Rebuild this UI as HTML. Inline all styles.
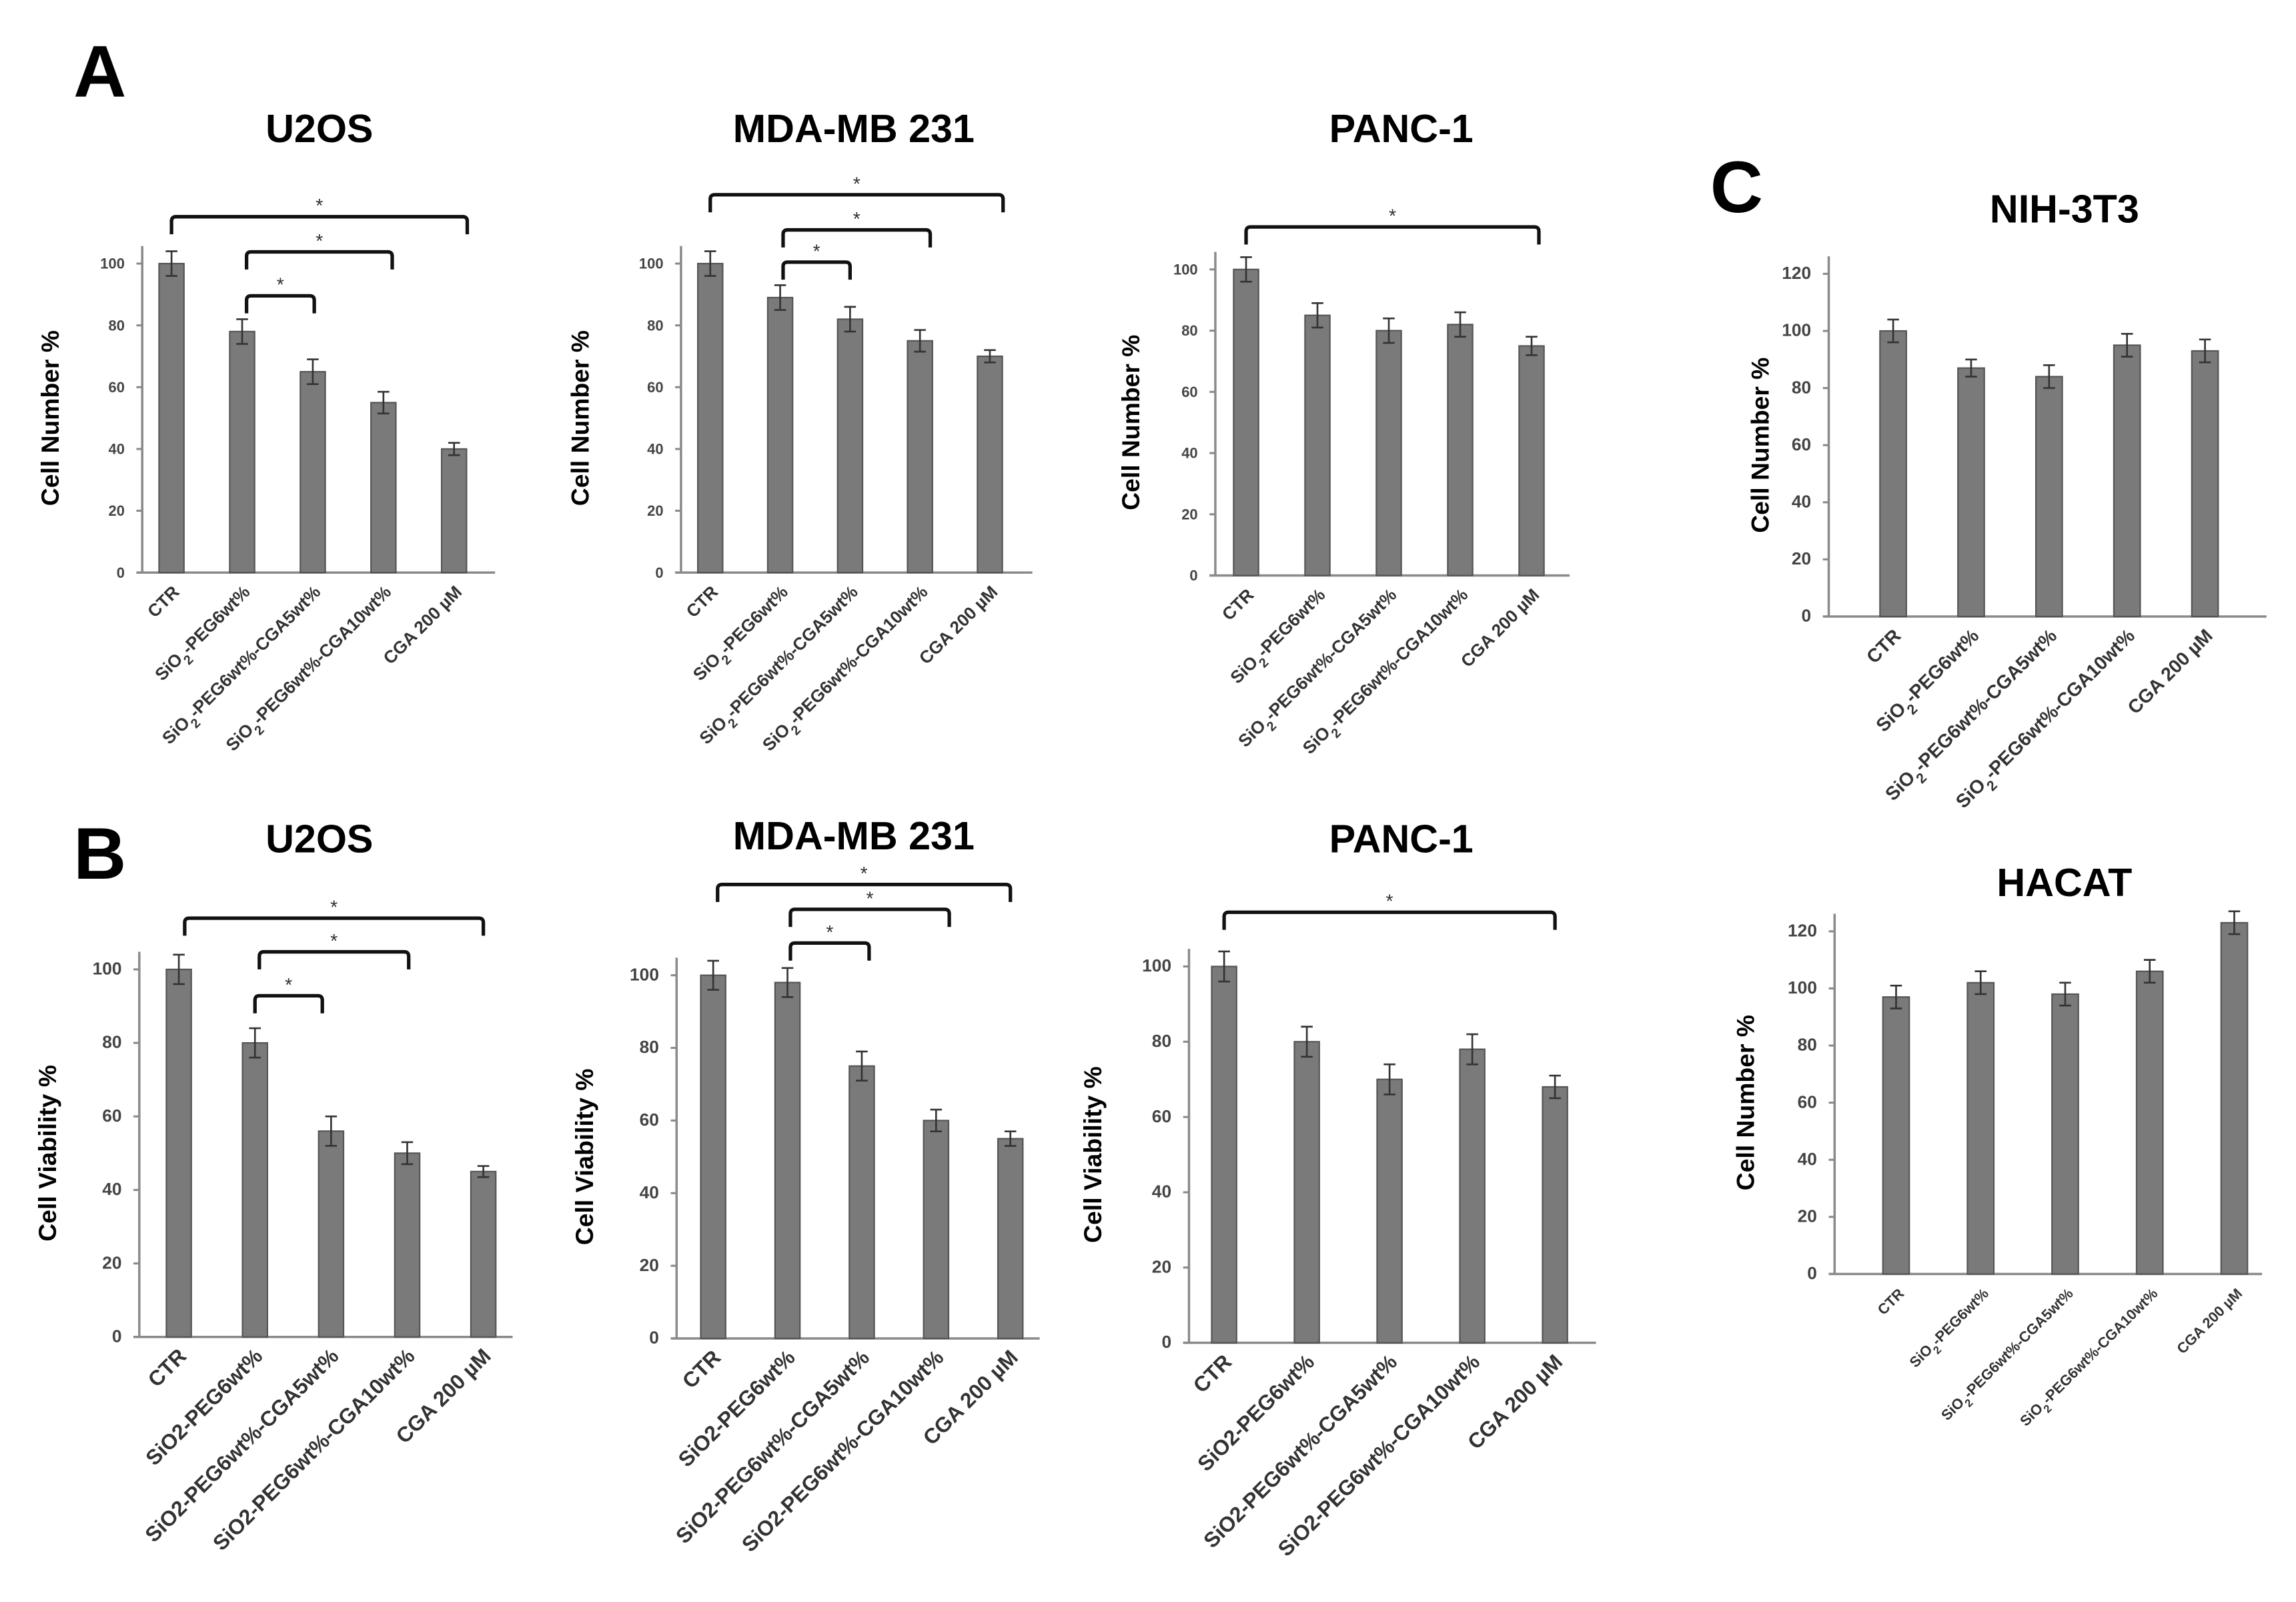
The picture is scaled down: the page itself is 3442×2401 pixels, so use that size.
<!DOCTYPE html>
<html><head><meta charset="utf-8"><style>
html,body{margin:0;padding:0;background:#fff;}
svg{display:block;}
text{font-family:"Liberation Sans",sans-serif;}
</style></head><body>
<svg id="fig" width="3442" height="2401" viewBox="0 0 1568 1094" xmlns="http://www.w3.org/2000/svg">
<rect width="1568" height="1094" fill="#fff"/>
<text x="50" y="66" font-size="50" font-weight="bold">A</text>
<text x="50" y="600" font-size="50" font-weight="bold">B</text>
<text x="1168" y="145" font-size="50" font-weight="bold">C</text>
</svg>
<script>
const categories = ["CTR","SiO2-PEG6wt%","SiO2-PEG6wt%-CGA5wt%","SiO2-PEG6wt%-CGA10wt%","CGA 200 µM"];
const u2osNum = [100,78,65,55,40];
const u2osNumErr = [4,4,4,3.5,2];
const mdaNum = [100,89,82,75,70];
const mdaNumErr = [4,4,4,3.5,2];
const pancNum = [100,85,80,82,75];
const pancNumErr = [4,4,4,4,3];
const u2osVia = [100,80,56,50,45];
const u2osViaErr = [4,4,4,3,1.5];
const mdaVia = [100,98,75,60,55];
const mdaViaErr = [4,4,4,3,2];
const pancVia = [100,80,70,78,68];
const pancViaErr = [4,4,4,4,3];
const nihNum = [100,87,84,95,93];
const nihNumErr = [4,3,4,4,4];
const hacatNum = [97,102,98,106,123];
const hacatNumErr = [4,4,4,4,4];
const ticks100 = [0,20,40,60,80,100];
const ticks120 = [0,20,40,60,80,100,120];

const NS="http://www.w3.org/2000/svg";
const svg=document.getElementById('fig');
function mk(tag,attrs,parent){const e=document.createElementNS(NS,tag);for(const k in attrs)e.setAttribute(k,attrs[k]);(parent||svg).appendChild(e);return e;}

function chart(o){
  const g=mk('g',{});
  
  
  const yMax=o.ticks[o.ticks.length-1];
  const y=v=>o.y0-(v/yMax)*(o.y0-o.yTop);
  const x=i=>o.x0+(i)*(o.x1-o.x0)/(o.vals.length-1);
  const t=mk('text',{x:o.tx,y:o.ty,'font-size':27,'font-weight':'bold','text-anchor':'middle'},g);
  t.textContent=o.title;
  
  
  const yl=mk('text',{x:0,y:0,'font-size':o.ylfs||17,'font-weight':'bold','text-anchor':'middle',transform:`translate(${o.ylx},${(o.y0+o.yTop)/2}) rotate(-90)`},g);
  yl.textContent=o.ylabel;
  
  
  const ya=mk('line',{x1:o.ax,y1:o.y0,x2:o.ax,y2:o.yTop-12,stroke:'#8a8a8a','stroke-width':1.6},g);
  
  
  const xa=mk('line',{x1:o.ax-4,y1:o.y0,x2:o.axEnd,y2:o.y0,stroke:'#8a8a8a','stroke-width':1.6},g);
  
  
  o.ticks.forEach(tv=>{
    mk('line',{x1:o.ax-4,y1:y(tv),x2:o.ax,y2:y(tv),stroke:'#8a8a8a','stroke-width':1.4},g);
    const tl=mk('text',{x:o.ax-12,y:y(tv)+3.5,'font-size':o.tfs||10,'font-weight':'bold',fill:'#444','text-anchor':'end'},g);
    tl.textContent=tv;
    
    
  });
  o.vals.forEach((v,i)=>{
    const cx=x(i);
    const b=mk('rect',{x:cx-o.bw/2,y:y(v),width:o.bw,height:o.y0-y(v),fill:'#7a7a7a',stroke:'#555','stroke-width':1},g);
    
    
    const e=o.err[i];
    const eb=mk('path',{d:`M${cx},${y(v+e)}V${y(v-e)}M${cx-4},${y(v+e)}H${cx+4}M${cx-4},${y(v-e)}H${cx+4}`,stroke:'#333','stroke-width':1.2,fill:'none'},g);
    
    
    const lx=cx+6, ly=o.y0+14;
    const lt=mk('text',{x:lx,y:ly,'font-size':o.lfs||10,'font-weight':'bold',fill:'#333','text-anchor':'end',transform:`rotate(-45 ${lx} ${ly})`},g);
    
    
    const c=categories[i];
    if(o.sub && c.startsWith('SiO2')){
      const a=mk('tspan',{},lt);a.textContent='SiO';
      const s=mk('tspan',{'baseline-shift':'sub','font-size':(o.lfs||10)*0.75},lt);s.textContent='2';
      const r=mk('tspan',{},lt);r.textContent=c.slice(4);
    } else lt.textContent=c;
  });
  (o.brackets||[]).forEach(br=>{
    const xa_=x(br[0])+(br[3]||0), xb=x(br[1])+(br[4]||0), by=br[2];
    const p=mk('path',{d:`M${xa_},${by+12}V${by+3}Q${xa_},${by} ${xa_+3},${by}H${xb-3}Q${xb},${by} ${xb},${by+3}V${by+12}`,stroke:'#111','stroke-width':2.4,fill:'none'},g);
    
    
    const s=mk('text',{x:(xa_+xb)/2,y:by-3,'font-size':13,'text-anchor':'middle',fill:'#333'},g);
    s.textContent='*';
    
    
  });
}

chart({name:'chart-a-u2os',title:'U2OS',tx:218,ty:97,ylabel:'Cell Number %',ylx:40,ax:97,axEnd:338,x0:117,x1:310,y0:391,yTop:180,bw:17,vals:u2osNum,err:u2osNumErr,ticks:ticks100,sub:true,lfs:12,
  brackets:[[0,4,148,0,9],[1,3,172,3,6],[1,2,202,3,1]]});
chart({name:'chart-a-mda',title:'MDA-MB 231',tx:583,ty:97,ylabel:'Cell Number %',ylx:402,ax:465,axEnd:705,x0:485,x1:676,y0:391,yTop:180,bw:17,vals:mdaNum,err:mdaNumErr,ticks:ticks100,sub:true,lfs:12,
  brackets:[[0,4,133,0,9],[1,3,157,2,7],[1,2,179,2,0]]});
chart({name:'chart-a-panc',title:'PANC-1',tx:957,ty:97,ylabel:'Cell Number %',ylx:778,ax:830,axEnd:1072,x0:851,x1:1046,y0:393,yTop:184,bw:17,vals:pancNum,err:pancNumErr,ticks:ticks100,sub:true,lfs:12,
  brackets:[[0,4,155,0,5]]});
chart({name:'chart-b-u2os',title:'U2OS',tx:218,ty:582,ylabel:'Cell Viability %',ylx:38,ax:95,axEnd:350,x0:122,x1:330,y0:913,yTop:662,bw:17,vals:u2osVia,err:u2osViaErr,ticks:ticks100,tfs:12,lfs:14.5,
  brackets:[[0,4,627,4,0],[1,3,650,3,1],[1,2,680,0,-6]]});
chart({name:'chart-b-mda',title:'MDA-MB 231',tx:583,ty:580,ylabel:'Cell Viability %',ylx:405,ax:462,axEnd:710,x0:487,x1:690,y0:914,yTop:666,bw:17,vals:mdaVia,err:mdaViaErr,ticks:ticks100,tfs:12,lfs:14.5,
  brackets:[[0,4,604,3,0],[1,3,621,2,9],[1,2,644,2,5]]});
chart({name:'chart-b-panc',title:'PANC-1',tx:957,ty:582,ylabel:'Cell Viability %',ylx:752,ax:812,axEnd:1090,x0:836,x1:1062,y0:917,yTop:660,bw:17,vals:pancVia,err:pancViaErr,ticks:ticks100,tfs:12,lfs:14.5,
  brackets:[[0,4,623,0,0]]});
chart({name:'chart-c-nih3t3',title:'NIH-3T3',tx:1410,ty:152,ylabel:'Cell Number %',ylx:1208,ax:1249,axEnd:1548,x0:1293,x1:1506,y0:421,yTop:187,bw:18,vals:nihNum,err:nihNumErr,ticks:ticks120,tfs:12,lfs:13,sub:true});
chart({name:'chart-c-hacat',title:'HACAT',tx:1410,ty:612,ylabel:'Cell Number %',ylx:1198,ax:1253,axEnd:1545,x0:1295,x1:1526,y0:870,yTop:636,bw:18,vals:hacatNum,err:hacatNumErr,ticks:ticks120,tfs:12,lfs:10,sub:true});
</script>
</body></html>
